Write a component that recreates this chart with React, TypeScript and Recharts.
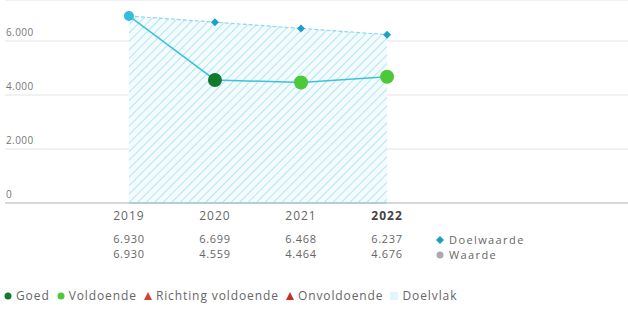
import {
  ComposedChart,
  Area,
  Line,
  XAxis,
  YAxis,
  CartesianGrid,
  ReferenceLine,
} from "recharts";

const years = [2019, 2020, 2021, 2022];
const doelwaarde = [6930, 6699, 6468, 6237];
const waarde = [6930, 4559, 4464, 4676];
const status = ["geen", "goed", "voldoende", "voldoende"];
const yTicks = [0, 2000, 4000, 6000];

const statusColor: Record<string, string> = {
  geen: "#35bcd9",
  goed: "#137a2c",
  voldoende: "#4cc93a",
};

const FONT = "'Open Sans', 'Noto Sans', sans-serif";
const TEXT = "#666";

const fmt = (v: number) => v.toLocaleString("de-DE");

const data = years.map((y, i) => ({
  year: y,
  doel: doelwaarde[i],
  waarde: waarde[i],
  status: status[i],
}));

const YTick = ({ y, payload }: any) => (
  <text x={6} y={y - 5} fontSize={10} letterSpacing={0.4} fill="#777" fontFamily={FONT}>
    {fmt(payload.value)}
  </text>
);

const XTick = ({ x, payload }: any) => {
  const i = years.indexOf(payload.value);
  const last = i === years.length - 1;
  return (
    <g fontFamily={FONT} fill={TEXT} textAnchor="middle">
      <text x={x} y={220} fontSize={12} letterSpacing={1} fontWeight={last ? 700 : 400} fill={last ? "#444" : TEXT}>
        {payload.value}
      </text>
      <text x={x} y={243} fontSize={11} letterSpacing={0.7}>
        {fmt(doelwaarde[i])}
      </text>
      <text x={x} y={258} fontSize={11} letterSpacing={0.7}>
        {fmt(waarde[i])}
      </text>
    </g>
  );
};

const DoelDot = ({ cx, cy, index }: any) => {
  if (index === 0) return <g key={index} />;
  return (
    <path
      key={index}
      d={`M${cx},${cy - 4} L${cx + 4},${cy} L${cx},${cy + 4} L${cx - 4},${cy} Z`}
      fill="#1b9fcc"
    />
  );
};

const WaardeDot = ({ cx, cy, payload, index }: any) => {
  const r = payload.status === "geen" ? 5 : 7;
  return <circle key={index} cx={cx} cy={cy} r={r} fill={statusColor[payload.status]} />;
};

const legendText = { marginLeft: 3, marginRight: 6, letterSpacing: 0.9 };

export default function App() {
  return (
    <div style={{ position: "absolute", left: 0, top: 0, width: 628, height: 311, background: "#fff" }}>
      <ComposedChart
        width={628}
        height={311}
        data={data}
        margin={{ top: 0, right: 0, left: -35, bottom: 8 }}
      >
        <defs>
          <pattern id="hatch" width="6" height="6" patternUnits="userSpaceOnUse" patternTransform="rotate(45)">
            <rect width="6" height="6" fill="#f3fbfd" />
            <line x1="0" y1="0" x2="0" y2="6" stroke="#b3e6f2" strokeWidth="2" />
          </pattern>
        </defs>
        <CartesianGrid horizontal vertical={false} stroke="#ececec" strokeWidth={1.5} />
        <XAxis
          dataKey="year"
          type="number"
          domain={[2017.56, 2024.8]}
          ticks={years}
          tick={<XTick />}
          tickLine={false}
          axisLine={{ stroke: "#cfcfcf", strokeWidth: 1.5 }}
          height={100}
          interval={0}
        />
        <YAxis
          domain={[0, 7520]}
          ticks={yTicks}
          tick={<YTick />}
          axisLine={false}
          tickLine={false}
          width={40}
          interval={0}
        />
        <Area
          dataKey="doel"
          type="linear"
          fill="url(#hatch)"
          fillOpacity={1}
          stroke="none"
          isAnimationActive={false}
        />
        <ReferenceLine
          segment={[
            { x: 2019, y: 0 },
            { x: 2022, y: 0 },
          ]}
          stroke="#35bcd9"
          strokeWidth={1.5}
        />
        <Line
          dataKey="doel"
          type="linear"
          stroke="#8fd8e8"
          strokeWidth={1.2}
          strokeDasharray="4 2"
          dot={<DoelDot />}
          activeDot={false}
          isAnimationActive={false}
        />
        <Line
          dataKey="waarde"
          type="linear"
          stroke="#3fc1dc"
          strokeWidth={1.5}
          dot={<WaardeDot />}
          activeDot={false}
          isAnimationActive={false}
        />
      </ComposedChart>

      <div
        style={{
          position: "absolute",
          left: 435,
          top: 232,
          fontFamily: FONT,
          fontSize: 11,
          color: TEXT,
          letterSpacing: 1.4,
        }}
      >
        <div style={{ display: "flex", alignItems: "center", height: 15, lineHeight: "13px" }}>
          <svg width={12} height={10}>
            <path d="M5,1 L9,5 L5,9 L1,5 Z" fill="#1b9fcc" />
          </svg>
          <span style={{ marginLeft: 2 }}>Doelwaarde</span>
        </div>
        <div style={{ display: "flex", alignItems: "center", height: 15, lineHeight: "13px" }}>
          <svg width={12} height={10}>
            <circle cx={5} cy={5} r={3.5} fill="#aaa" />
          </svg>
          <span style={{ marginLeft: 2 }}>Waarde</span>
        </div>
      </div>

      <div
        style={{
          position: "absolute",
          left: 3,
          top: 287,
          fontFamily: FONT,
          fontSize: 12,
          color: TEXT,
          display: "flex",
          alignItems: "center",
          whiteSpace: "nowrap",
        }}
      >
        <svg width={10} height={10}>
          <circle cx={5} cy={5} r={3.5} fill="#137a2c" />
        </svg>
        <span style={legendText}>Goed</span>
        <svg width={10} height={10}>
          <circle cx={5} cy={5} r={3.5} fill="#4cc93a" />
        </svg>
        <span style={legendText}>Voldoende</span>
        <svg width={10} height={10}>
          <path d="M5,1 L9,9 L1,9 Z" fill="#d9403a" />
        </svg>
        <span style={legendText}>Richting voldoende</span>
        <svg width={10} height={10}>
          <path d="M5,1 L9,9 L1,9 Z" fill="#c7302a" />
        </svg>
        <span style={legendText}>Onvoldoende</span>
        <svg width={10} height={10}>
          <rect x={1} y={1} width={8} height={8} fill="#e3f6fb" />
        </svg>
        <span style={legendText}>Doelvlak</span>
      </div>
    </div>
  );
}
